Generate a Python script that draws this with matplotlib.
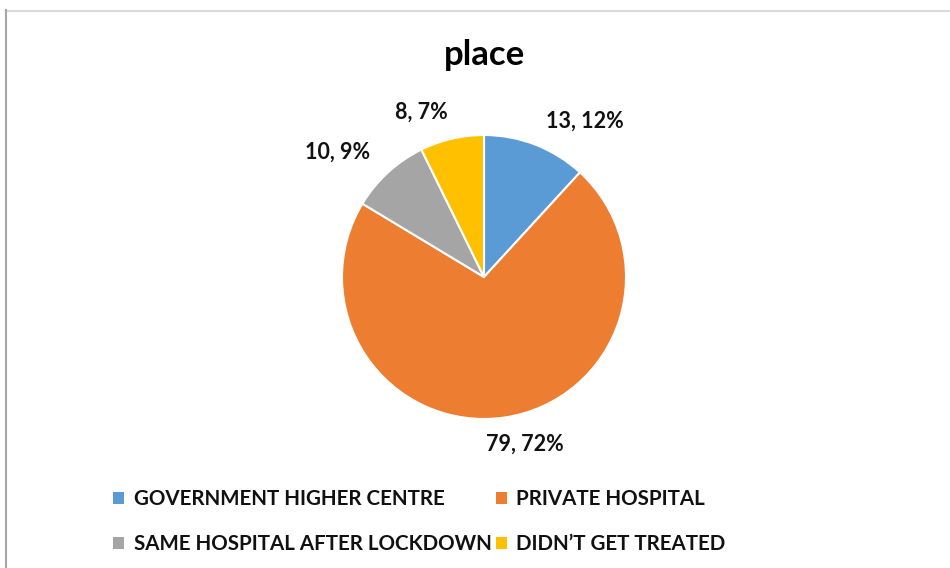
import matplotlib.pyplot as plt
from matplotlib.lines import Line2D
from matplotlib.patches import Patch

categories = ["GOVERNMENT HIGHER CENTRE", "PRIVATE HOSPITAL",
              "SAME HOSPITAL AFTER LOCKDOWN", "DIDN\u2019T GET TREATED"]
counts = [13, 79, 10, 8]
percents = [12, 72, 9, 7]
colors = ["#5B9BD5", "#ED7D31", "#A5A5A5", "#FFC000"]

# where each data label sits, in pie radius units
label_pos = [(0.71, 1.10), (0.29, -1.18), (-1.03, 0.88), (-0.44, 1.16)]

plt.rcParams['font.family'] = ['Lato', 'DejaVu Sans']

W, H = 950, 568
fig = plt.figure(figsize=(W / 100, H / 100), dpi=100)

# chart frame lines
fig.add_artist(Line2D([6 / W, 1], [1 - 10.5 / H] * 2, color="#d9d9d9", lw=1.5))
fig.add_artist(Line2D([5.5 / W] * 2, [0, 1 - 10 / H], color="#a6a6a6", lw=1.5))

cx, cy, r = 484, 277, 142
ax = fig.add_axes([(cx - r) / W, (H - cy - r) / H, 2 * r / W, 2 * r / H])
ax.pie(counts, colors=colors, startangle=90, counterclock=False, radius=1,
       wedgeprops=dict(edgecolor="white", linewidth=1.5))
ax.set_xlim(-1, 1)
ax.set_ylim(-1, 1)
ax.set_aspect("equal")
ax.axis("off")

for (x, y), n, p in zip(label_pos, counts, percents):
    ax.text(x, y, f"{n}, {p}%", ha="center", va="center", fontsize=15.5,
            fontweight="bold", color="#111111", clip_on=False)

fig.text(cx / W, 1 - 55 / H, "place", ha="center", va="center", fontsize=25,
         fontweight="bold", color="#000000")

# legend fills row by row, so interleave for matplotlib's column-major order
order = [0, 2, 1, 3]
handles = [Patch(facecolor=colors[i], edgecolor="none") for i in order]
labels = [categories[i] for i in order]
leg = fig.legend(handles, labels, loc="upper left", bbox_to_anchor=(107 / W, 1 - 483 / H),
                 ncol=2, frameon=False, fontsize=14.8, handlelength=0.55, handleheight=0.55,
                 handletextpad=0.45, columnspacing=0.2, labelspacing=1.22,
                 borderaxespad=0, borderpad=0.3)
for t in leg.get_texts():
    t.set_fontweight("bold")
    t.set_color("#111111")

fig.savefig("out.png", dpi=100, facecolor="white")
